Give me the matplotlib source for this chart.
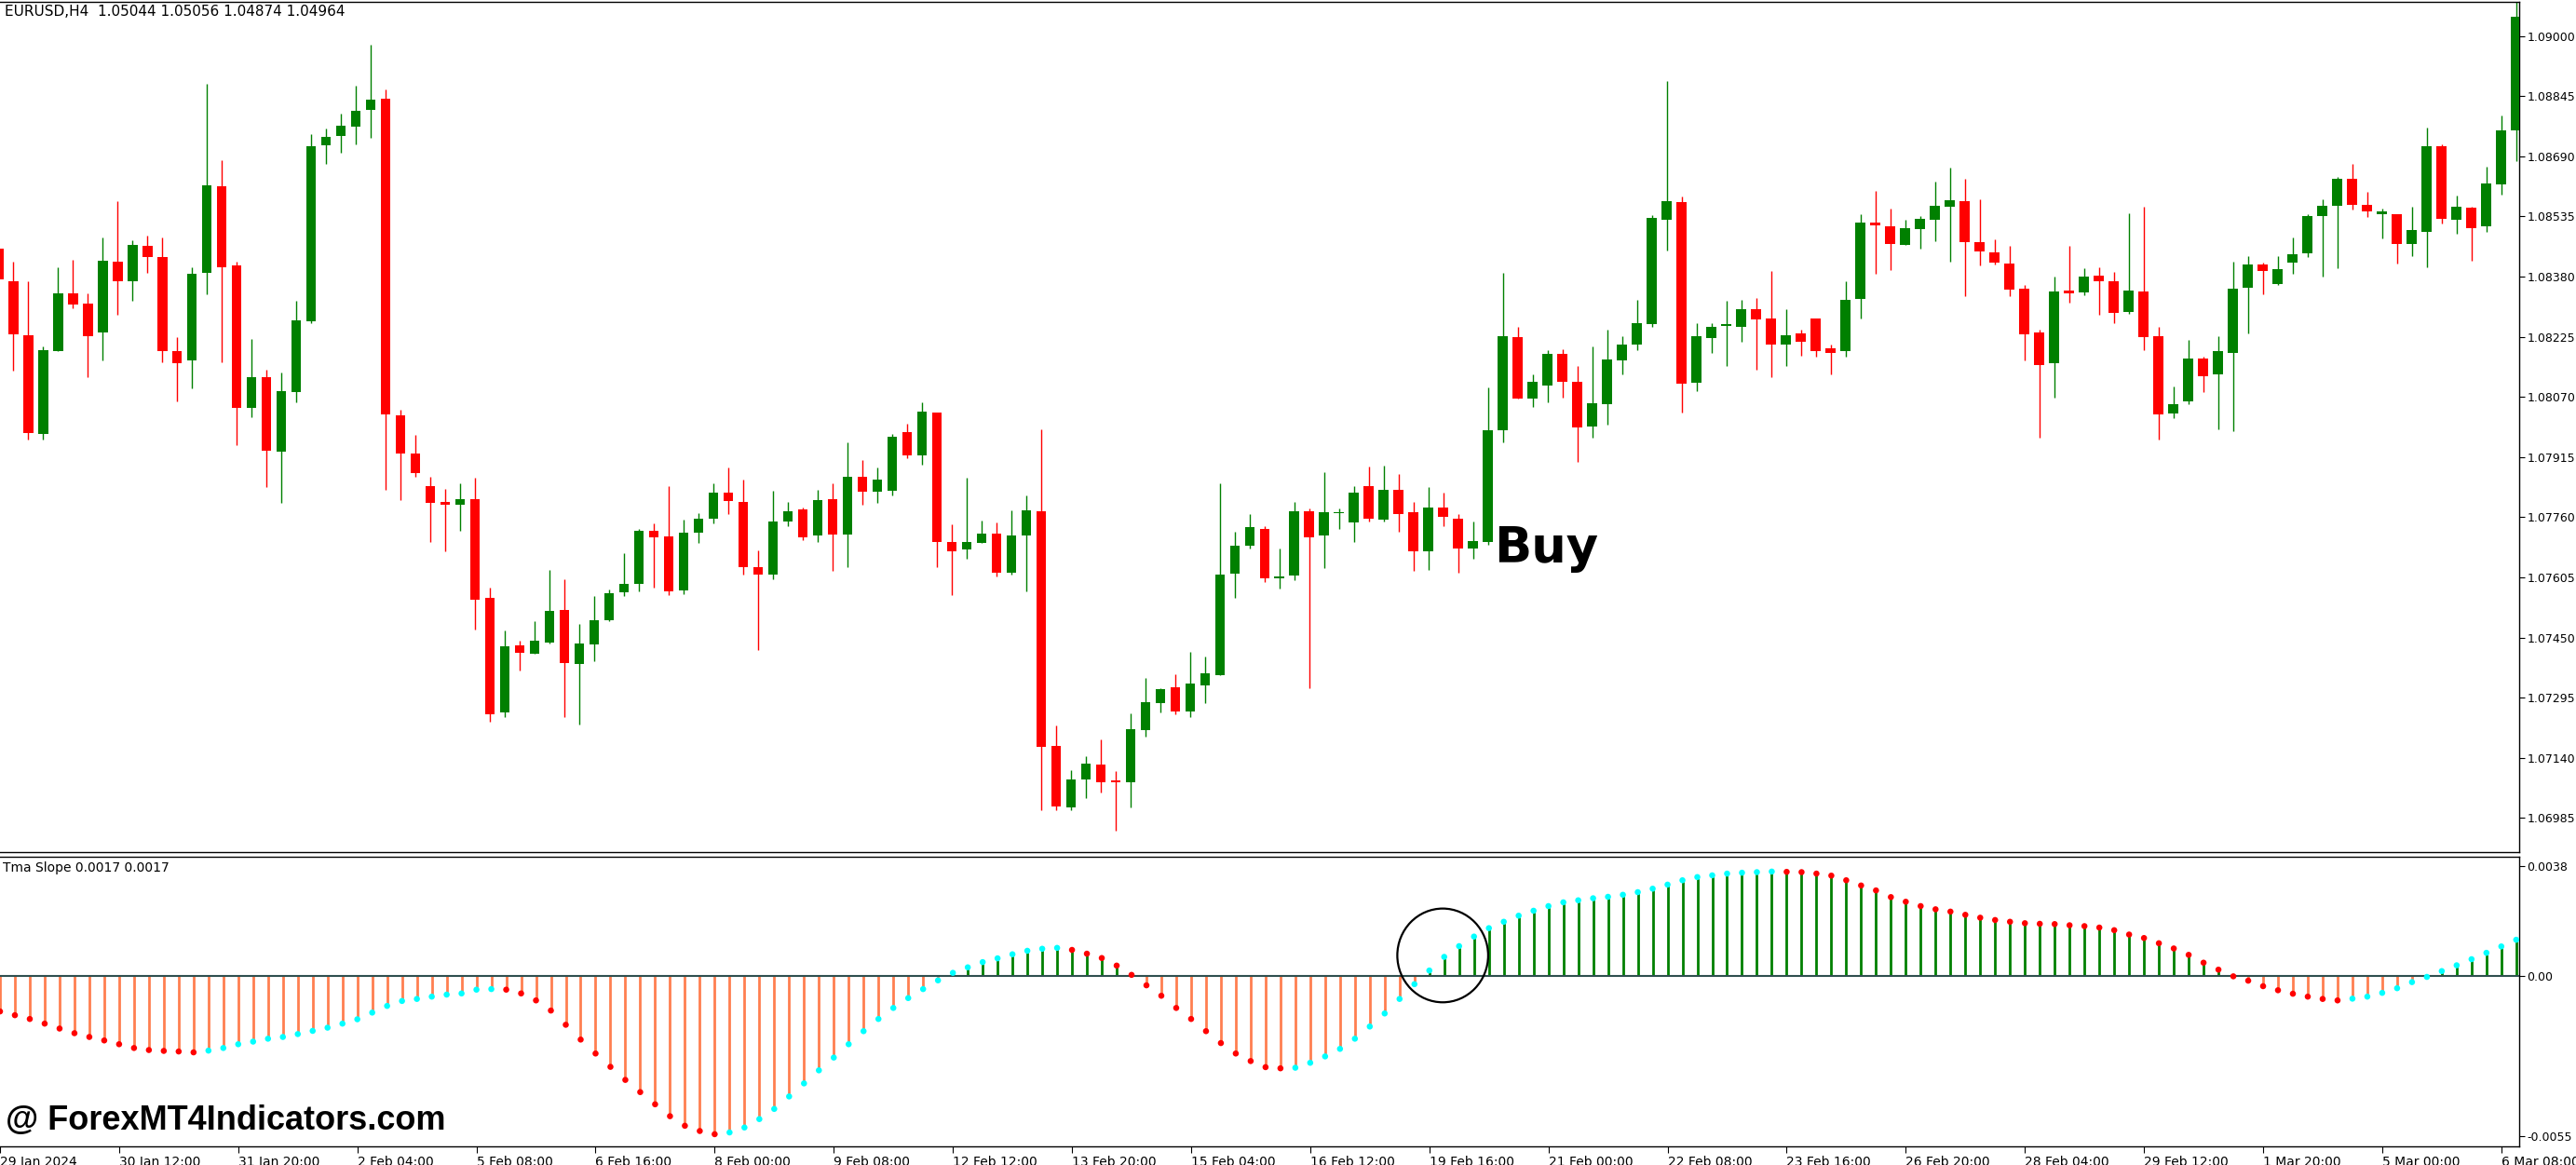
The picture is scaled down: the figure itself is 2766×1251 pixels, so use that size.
import numpy as np
import matplotlib
matplotlib.use("Agg")
import matplotlib.pyplot as plt
from matplotlib.patches import Ellipse

# ---- data (prices in 1e-5 units) ----
open_pts = [108453,108369,108230,107974,108188,108338,108311,108237,108419,108367,
108460,108430,108187,108163,108390,108612,108409,108041,108121,107929,
108082,108265,108719,108743,108766,108810,108839,108023,107925,107840,
107799,107791,107806,107553,107256,107429,107408,107436,107522,107382,
107432,107495,107567,107588,107725,107711,107571,107719,107757,107824,
107800,107631,107611,107750,107779,107712,107806,107716,107863,107826,
107828,107980,107919,108030,107695,107676,107693,107718,107618,107712,
107775,107171,107011,107084,107123,107081,107077,107212,107282,107322,
107259,107327,107354,107614,107686,107729,107603,107609,107775,107712,
107770,107747,107840,107754,107830,107772,107673,107786,107756,107679,
107695,107984,108223,108065,108099,108180,108108,107994,108051,108164,
108204,108258,108527,108572,108106,108222,108253,108251,108297,108271,
108205,108233,108271,108195,108187,108323,108519,108510,108461,108503,
108526,108561,108575,108470,108443,108414,108348,108236,108156,108345,
108339,108383,108369,108289,108342,108227,108027,108058,108169,108127,
108184,108351,108412,108360,108415,108439,108537,108563,108633,108566,
108542,108542,108463,108496,108715,108527,108558,108509,108617,108757]
high_pts = [108464,108419,108369,108199,108405,108423,108338,108481,108575,108474,
108486,108481,108223,108405,108877,108680,108419,108219,108139,108132,
108318,108748,108762,108799,108873,108978,108863,108037,107973,107863,
107833,107848,107861,107579,107467,107441,107492,107624,107600,107484,
107558,107574,107667,107730,107743,107841,107753,107771,107848,107889,
107856,107674,107827,107799,107786,107830,107847,107952,107908,107887,
107975,108002,108057,108030,107742,107861,107751,107746,107777,107817,
107987,107224,107109,107145,107187,107105,107254,107345,107320,107355,
107414,107400,107848,107722,107767,107736,107679,107800,107782,107875,
107782,107841,107891,107894,107872,107799,107837,107824,107768,107749,
108094,108390,108250,108128,108190,108194,108149,108199,108244,108226,
108321,108538,108884,108587,108261,108261,108318,108321,108325,108395,
108297,108244,108271,108206,108369,108541,108600,108555,108527,108537,
108626,108660,108631,108579,108477,108460,108359,108243,108379,108460,
108402,108405,108393,108544,108559,108251,108097,108218,108174,108226,
108419,108433,108415,108433,108481,108542,108579,108636,108671,108598,
108555,108542,108559,108765,108720,108590,108559,108664,108796,109110]
low_pts = [108366,108138,107960,107960,108188,108299,108120,108163,108281,108317,
108390,108160,108058,108093,108334,108160,107946,108017,107838,107798,
108055,108261,108671,108699,108720,108737,107831,107805,107865,107697,
107673,107726,107470,107232,107246,107364,107408,107434,107245,107225,
107389,107491,107558,107568,107578,107560,107561,107693,107743,107768,
107611,107418,107599,107737,107701,107695,107621,107631,107793,107798,
107817,107912,107896,107631,107560,107652,107693,107607,107611,107568,
107005,107005,107005,107035,107050,106951,107012,107194,107256,107252,
107246,107281,107354,107551,107679,107592,107575,107597,107320,107628,
107730,107695,107750,107750,107723,107621,107624,107737,107618,107652,
107690,107954,108065,108045,108055,108068,107903,107964,107998,108127,
108191,108250,108447,108029,108086,108184,108150,108213,108139,108120,
108150,108177,108174,108127,108174,108272,108387,108398,108461,108453,
108471,108418,108330,108408,108412,108330,108164,107964,108069,108313,
108332,108282,108261,108285,108191,107960,108015,108052,108082,107987,
107981,108234,108334,108358,108387,108430,108380,108401,108554,108533,
108478,108414,108432,108404,108516,108491,108422,108496,108591,108677]
close_pts = [108373,108232,107977,108190,108338,108309,108227,108421,108367,108461,
108430,108188,108157,108388,108615,108404,108041,108121,107931,108085,
108268,108717,108741,108768,108808,108836,108024,107924,107873,107798,
107791,107806,107547,107253,107428,107411,107441,107519,107385,107434,
107495,107565,107589,107725,107709,107568,107719,107756,107823,107802,
107632,107611,107749,107775,107708,107803,107716,107863,107826,107856,
107968,107919,108033,107695,107673,107695,107718,107616,107712,107777,
107168,107015,107085,107126,107077,107077,107214,107284,107316,107259,
107331,107357,107613,107687,107735,107602,107607,107775,107709,107772,
107774,107824,107757,107830,107768,107673,107786,107760,107680,107698,
107985,108226,108065,108108,108180,108108,107991,108054,108166,108204,
108261,108531,108575,108103,108226,108251,108257,108297,108269,108205,
108230,108211,108188,108184,108321,108519,108512,108463,108505,108528,
108562,108576,108468,108444,108415,108346,108232,108153,108342,108337,
108381,108367,108286,108345,108225,108024,108051,108169,108124,108187,
108349,108412,108394,108400,108437,108535,108562,108631,108566,108547,
108547,108463,108500,108715,108530,108559,108506,108619,108758,109049]
# Tma slope values in 1e-4 units
tma_e4 = [-12.1,-13.4,-14.7,-16.3,-18.0,-19.6,-20.9,-22.1,-23.4,-24.7,
-25.4,-25.7,-25.9,-26.2,-25.6,-24.7,-23.4,-22.5,-21.5,-20.9,
-19.9,-18.8,-17.7,-16.3,-14.8,-12.5,-10.2,-8.5,-7.8,-7.0,
-6.3,-5.9,-4.6,-4.4,-4.6,-5.9,-8.3,-11.8,-16.7,-21.8,
-26.6,-31.2,-35.7,-39.9,-44.1,-48.2,-51.5,-53.3,-54.4,-53.8,
-52.1,-49.2,-45.7,-41.4,-36.9,-32.4,-28.0,-23.4,-18.9,-14.7,
-10.9,-7.5,-4.4,-1.4,1.2,3.1,4.9,6.2,7.6,8.8,
9.5,9.8,9.1,7.8,6.3,3.7,0.5,-3.1,-6.7,-10.9,
-14.7,-18.9,-23.0,-26.6,-29.2,-31.3,-31.7,-31.5,-29.8,-27.6,
-25.0,-21.5,-17.3,-12.8,-7.8,-2.7,2.0,6.7,10.4,13.7,
16.6,18.8,20.9,22.6,24.2,25.5,26.2,26.9,27.4,28.1,
29.0,30.2,31.6,33.1,34.2,34.8,35.4,35.7,35.9,36.1,
36.0,35.9,35.4,34.7,33.1,31.3,29.6,27.3,25.7,24.2,
23.1,22.3,21.2,20.2,19.4,18.8,18.3,18.1,18.0,17.6,
17.3,16.8,15.9,14.4,13.2,11.4,9.6,7.4,4.7,2.3,
0.0,-1.5,-3.4,-4.8,-6.0,-7.0,-7.8,-8.3,-7.7,-7.0,
-5.7,-4.1,-2.0,-0.2,1.8,3.8,5.9,8.1,10.3,12.6]
tick_idx = list(range(0, 169, 8))
tick_labels = ["29 Jan 2024","30 Jan 12:00","31 Jan 20:00","2 Feb 04:00","5 Feb 08:00",
"6 Feb 16:00","8 Feb 00:00","9 Feb 08:00","12 Feb 12:00","13 Feb 20:00","15 Feb 04:00",
"16 Feb 12:00","19 Feb 16:00","21 Feb 00:00","22 Feb 08:00","23 Feb 16:00","26 Feb 20:00",
"28 Feb 04:00","29 Feb 12:00","1 Mar 20:00","5 Mar 00:00","6 Mar 08:00"]
price_ticks = [1.09000,1.08845,1.08690,1.08535,1.08380,1.08225,1.08070,1.07915,
1.07760,1.07605,1.07450,1.07295,1.07140,1.06985]

o = np.array(open_pts)/1e5; h = np.array(high_pts)/1e5
l = np.array(low_pts)/1e5; c = np.array(close_pts)/1e5
tma = np.array(tma_e4)*1e-4
x = np.arange(len(o))

W, H = 2766, 1251
fig = plt.figure(figsize=(W/100, H/100), dpi=100)
fig.patch.set_facecolor("white")
right = 2705/W
ax = fig.add_axes([0, 1-915/H, right, (915-2)/H])
axi = fig.add_axes([0, 1-1231/H, right, (1231-920)/H])

GREEN, RED = "#008000", "#FF0000"
up = c >= o
cols = np.where(up, GREEN, RED)
ax.vlines(x, l, h, colors=cols, lw=1.0, zorder=2)
body_lo = np.minimum(o, c)
body_h = np.maximum(np.abs(c-o), 0.000025)
ax.bar(x, body_h, bottom=body_lo, width=0.68, color=cols, lw=0, zorder=3)
xl = (0.12, 169.2)
ax.set_xlim(*xl)
ax.set_ylim(1.06897, 1.09088)
ax.yaxis.tick_right()
ax.set_yticks(price_ticks)
ax.set_yticklabels([f"{p:.5f}" for p in price_ticks], fontsize=9)
ax.tick_params(axis="y", length=4, pad=2)
ax.set_xticks([])
for s in ax.spines.values():
    s.set_color("black"); s.set_linewidth(1)
ax.spines["left"].set_visible(False)
ax.text(0.002, 0.997, "EURUSD,H4  1.05044 1.05056 1.04874 1.04964", transform=ax.transAxes,
        fontsize=11, va="top", ha="left")
ax.text(100.4, 1.07680, "Buy", fontsize=38, fontweight="bold", va="center", ha="left",
        family="DejaVu Sans")

# indicator
stem_cols = np.where(tma >= 0, GREEN, "#FF7F50")
axi.vlines(x, 0, tma, colors=stem_cols, lw=2.0, zorder=2)
rising = np.concatenate([[False], tma[1:] > tma[:-1]])
dot_cols = np.where(rising, "#00FFFF", RED)
axi.scatter(x, tma, s=22, c=dot_cols, zorder=4, lw=0)
axi.axhline(0, color="#2F4F4F", lw=1.5, zorder=3)
axi.set_xlim(*xl)
axi.set_ylim(-0.00586, 0.00412)
axi.yaxis.tick_right()
axi.set_yticks([0.0038, 0.0, -0.0055])
axi.set_yticklabels(["0.0038", "0.00", "-0.0055"], fontsize=9)
axi.tick_params(axis="y", length=4, pad=2)
axi.set_xticks(tick_idx)
axi.set_xticklabels(tick_labels, fontsize=10, ha="left")
axi.tick_params(axis="x", length=5, pad=2)
for s in axi.spines.values():
    s.set_color("black"); s.set_linewidth(1)
axi.spines["left"].set_visible(False)
axi.text(0.001, 0.985, "Tma Slope 0.0017 0.0017", transform=axi.transAxes,
         fontsize=10, va="top", ha="left")
axi.add_patch(Ellipse((96.9, 7.2e-4), 6.1, 32.3e-4, fill=False, lw=1.6, color="black", zorder=5))
fig.text(0.002, 1-1203/H, "@ ForexMT4Indicators.com", fontsize=26, fontweight="bold",
         va="center", ha="left", family=["Liberation Sans Narrow", "Liberation Sans"])

fig.savefig("out.png", dpi=100)
